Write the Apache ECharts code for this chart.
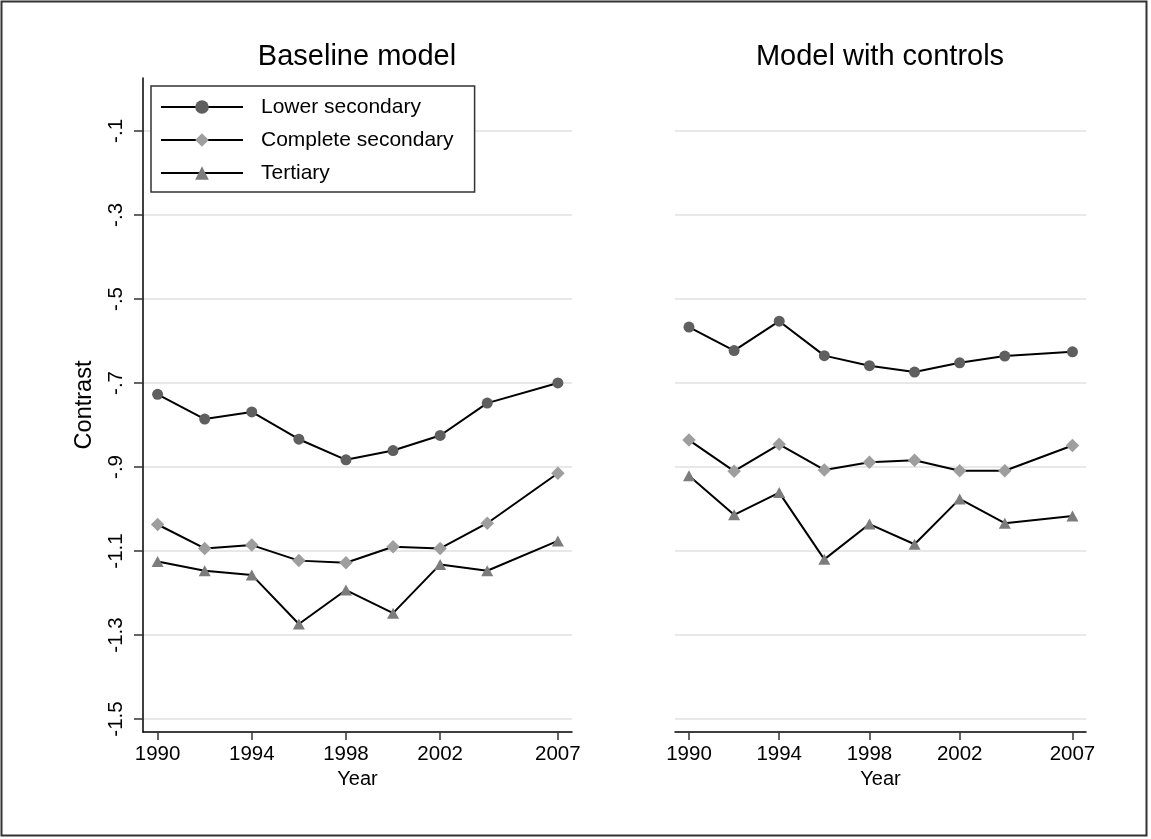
<!DOCTYPE html>
<html>
<head>
<meta charset="utf-8">
<script src="https://cdn.jsdelivr.net/npm/echarts@6/dist/echarts.min.js"></script>
<style>
html,body{margin:0;padding:0;background:#fff;}
#chart{width:1151px;height:839px;}
</style>
</head>
<body>
<div id="chart"></div>
<script>
// ---- data ----
const years = [1990, 1992, 1994, 1996, 1998, 2000, 2002, 2004, 2007];
const xTicks = [1990, 1994, 1998, 2002, 2007];
const yTicks = [-1.5, -1.3, -1.1, -0.9, -0.7, -0.5, -0.3, -0.1];
const panelTitles = ['Baseline model', 'Model with controls'];
const seriesNames = ['Lower secondary', 'Complete secondary', 'Tertiary'];

const baseLower    = [-0.727, -0.786, -0.769, -0.834, -0.883, -0.861, -0.825, -0.748, -0.700];
const baseComplete = [-1.037, -1.094, -1.086, -1.123, -1.128, -1.090, -1.094, -1.034, -0.915];
const baseTertiary = [-1.125, -1.147, -1.157, -1.274, -1.193, -1.248, -1.132, -1.147, -1.076];

const ctrlLower    = [-0.567, -0.623, -0.553, -0.635, -0.659, -0.674, -0.652, -0.636, -0.626];
const ctrlComplete = [-0.836, -0.910, -0.846, -0.907, -0.889, -0.884, -0.909, -0.909, -0.849];
const ctrlTertiary = [-0.921, -1.014, -0.961, -1.120, -1.036, -1.084, -0.976, -1.034, -1.017];

// ---- styling ----
const FONT = 'Liberation Sans, Arial, Helvetica, sans-serif';
const markerStyles = [
  {symbol: 'circle', size: 11, color: '#5f5f5f'},
  {symbol: 'diamond', size: 13.5, color: '#9e9e9e'},
  {symbol: 'triangle', size: [12, 11], color: '#7c7c7c'}
];
const panelData = [
  [baseLower, baseComplete, baseTertiary],
  [ctrlLower, ctrlComplete, ctrlTertiary]
];

function yFmt(v) {
  let s = (Math.round(v * 10) / 10).toString();
  return s.replace(/^(-?)0\./, '$1.');
}

const xMin = 1989.38, xMax = 2007.6;
const yMin = -1.531, yMax = 0.026;

const grids = [
  {left: 143, top: 78, width: 429, height: 654},
  {left: 675, top: 78, width: 411, height: 654}
];

const xAxes = grids.map((g, i) => ({
  type: 'value', gridIndex: i, min: xMin, max: xMax,
  name: 'Year', nameLocation: 'middle', nameGap: 34,
  nameTextStyle: {fontFamily: FONT, fontSize: 20, color: '#000'},
  axisLine: {show: true, onZero: false, lineStyle: {color: '#000', width: 1.5}},
  axisTick: {show: true, length: 8, customValues: xTicks, lineStyle: {color: '#333', width: 1.5}},
  axisLabel: {show: true, customValues: xTicks, margin: 12, fontFamily: FONT, fontSize: 20.5, color: '#000',
    formatter: v => String(v)},
  splitLine: {show: false}
}));

const yAxes = grids.map((g, i) => ({
  type: 'value', gridIndex: i, min: yMin, max: yMax,
  name: i === 0 ? 'Contrast' : '', nameLocation: 'middle', nameGap: 46,
  nameTextStyle: {fontFamily: FONT, fontSize: 23.5, color: '#000'},
  axisLine: {show: i === 0, onZero: false, lineStyle: {color: '#000', width: 1.5}},
  axisTick: {show: i === 0, length: 9, customValues: yTicks, lineStyle: {color: '#333', width: 1.5}},
  axisLabel: {show: i === 0, customValues: yTicks, rotate: 90, margin: 16, fontFamily: FONT, fontSize: 20.5, color: '#000',
    formatter: yFmt},
  splitLine: {show: true, lineStyle: {color: '#e8e8e8', width: 2}}
}));

const series = [];
panelData.forEach((sets, p) => {
  sets.forEach((vals, k) => {
    series.push({
      name: seriesNames[k], type: 'line',
      xAxisIndex: p, yAxisIndex: p,
      data: years.map((y, j) => [y, vals[j]]),
      symbol: markerStyles[k].symbol, symbolSize: markerStyles[k].size,
      showSymbol: true,
      itemStyle: {color: markerStyles[k].color, borderWidth: 0},
      lineStyle: {color: '#000', width: 2},
      z: 3 + k, animation: false, silent: true
    });
  });
});

const chart = echarts.init(document.getElementById('chart'), null, {renderer: 'canvas'});
chart.setOption({
  backgroundColor: '#fff',
  animation: false,
  title: [
    {text: panelTitles[0], left: 357, top: 42, textAlign: 'center', padding: 0,
      textStyle: {fontFamily: FONT, fontSize: 29, fontWeight: 'normal', color: '#000'}},
    {text: panelTitles[1], left: 880, top: 42, textAlign: 'center', padding: 0,
      textStyle: {fontFamily: FONT, fontSize: 29, fontWeight: 'normal', color: '#000'}}
  ],
  legend: {
    data: seriesNames,
    orient: 'vertical', left: 151, top: 86,
    itemWidth: 82, itemHeight: 17, itemGap: 12,
    padding: [10.5, 21, 8.5, 9],
    borderColor: '#333', borderWidth: 1.5, backgroundColor: '#fff',
    selectedMode: false,
    textStyle: {fontFamily: FONT, fontSize: 21, color: '#000', padding: [0, 0, 0, 13]}
  },
  grid: grids,
  xAxis: xAxes,
  yAxis: yAxes,
  series: series,
  graphic: [{
    type: 'rect', shape: {x: 1.5, y: 1.5, width: 1145, height: 834},
    style: {fill: 'none', stroke: '#333', lineWidth: 2}, silent: true, z: 100
  }]
});
</script>
</body>
</html>
